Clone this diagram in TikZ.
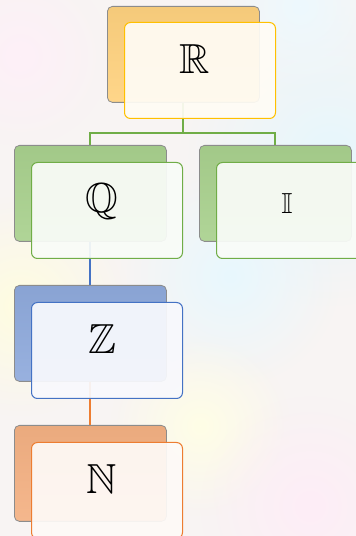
\documentclass[tikz,border=0pt]{standalone}
\usepackage{amssymb}
\usetikzlibrary{calc,fadings,positioning}

\definecolor{paper}{HTML}{F8F4F3}
\definecolor{goldline}{HTML}{FFC000}
\definecolor{goldfill}{HTML}{FFD27F}
\definecolor{greenline}{HTML}{70AD47}
\definecolor{greenfill}{HTML}{A9D18E}
\definecolor{blueline}{HTML}{4472C4}
\definecolor{bluefill}{HTML}{8FAADC}
\definecolor{orangeline}{HTML}{ED7D31}
\definecolor{orangefill}{HTML}{F4B183}

\tikzfading[name=softblob,inner color=transparent!0,outer color=transparent!100]

\tikzset{
	backbox/.style={draw=black!45,line width=0.8pt,rounded corners=5pt,minimum width=152pt,minimum height=96pt,inner sep=0pt,anchor=north west,top color=#1!96!black,bottom color=#1!92!white},
	frontbox/.style={draw=#1,line width=1pt,rounded corners=6pt,fill=#1!4,fill opacity=0.93,minimum width=151pt,minimum height=96pt,inner sep=0pt,anchor=north west},
	setname/.style={font=\fontsize{42}{48}\selectfont},
	link/.style={draw=#1,line width=2pt},
	blob/.style={fill=#1,path fading=softblob}
}

\begin{document}
\begin{tikzpicture}
	
	\clip (0pt,0pt) rectangle (356pt,536pt);
	\fill[paper] (0pt,0pt) rectangle (356pt,536pt);
	\fill[blob=cyan!10] (330pt,380pt) circle (150pt);
	\fill[blob=cyan!9] (230pt,260pt) circle (110pt);
	\fill[blob=cyan!7] (300pt,530pt) circle (90pt);
	\fill[blob=yellow!12] (20pt,230pt) circle (110pt);
	\fill[blob=yellow!10] (200pt,110pt) circle (90pt);
	\fill[blob=magenta!7] (310pt,30pt) circle (110pt);
	\fill[blob=magenta!6] (20pt,480pt) circle (90pt);
	
	% back boxes
	\node[backbox=goldfill] (Rback) at (107pt,530pt){};
	\node[backbox=greenfill] (Qback) at (14pt,391pt){};
	\node[backbox=greenfill] (Iback) at (199pt,391pt){};
	\node[backbox=bluefill] (Zback) at (14pt,251pt){};
	\node[backbox=orangefill] (Nback) at (14pt,111pt){};
	
	% links
	\coordinate (Rbus) at ([yshift=-30pt]Rback.south);
	\draw[link=greenline] (Rback.south)--(Rbus)-|(Qback.north);
	\draw[link=greenline] (Rbus)-|(Iback.north);
	\draw[link=blueline] (Qback.south)--(Zback.north);
	\draw[link=orangeline] (Zback.south)--(Nback.north);
	
	% front boxes
	\node[frontbox=goldline] (Rfront) at (124pt,514pt){};
	\node[frontbox=greenline] (Qfront) at (31pt,374pt){};
	\node[frontbox=greenline] (Ifront) at (216pt,374pt){};
	\node[frontbox=blueline] (Zfront) at (31pt,234pt){};
	\node[frontbox=orangeline] (Nfront) at (31pt,94pt){};
	
	\node[setname] (R) at (195pt,477pt){$\mathbb{R}$};
	\node[setname] (Q) at (102pt,334pt){$\mathbb{Q}$};
	\node[font=\fontsize{29}{34}\selectfont] (I) at (287pt,332pt){$\mathbb{I}$};
	\node[setname] (Z) at (102pt,197pt){$\mathbb{Z}$};
	\node[setname] (N) at (102pt,57pt){$\mathbb{N}$};
\end{tikzpicture}
\end{document}
